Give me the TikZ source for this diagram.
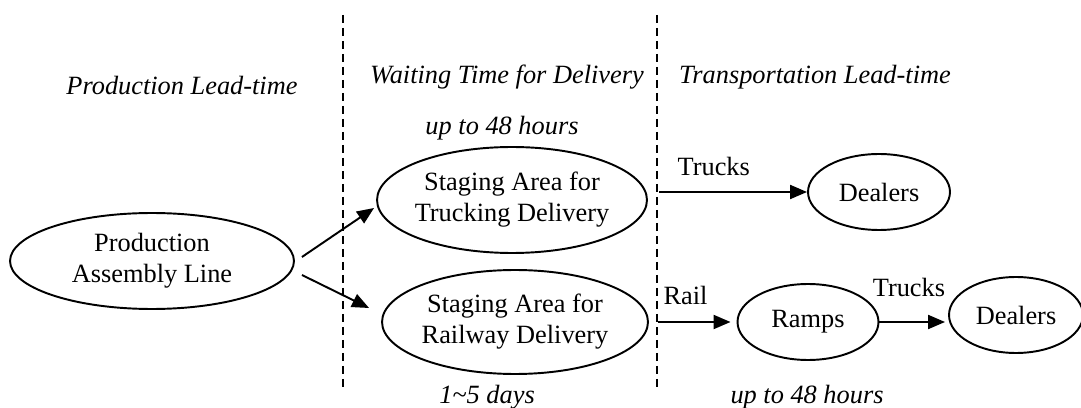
\documentclass[tikz,border=0pt]{standalone}
\usepackage{fontspec}
\setmainfont{Liberation Serif}
\usetikzlibrary{arrows.meta,shapes.geometric,calc}
\tikzset{
  stage/.style   = {ellipse, draw=black, line width=1.1pt, align=center,
                    font=\fontsize{15}{17.6}\selectfont, inner xsep=-2pt, inner ysep=0pt},
  phase/.style   = {anchor=base, font=\fontsize{15}{17.6}\selectfont\itshape, inner sep=0pt},
  carrier/.style = {font=\fontsize{15}{17.6}\selectfont, inner sep=0pt},
  flow/.style    = {-{Triangle[length=3.4mm,width=2.8mm]}, line width=1.1pt},
  divider/.style = {line width=1pt, dash pattern=on 0.16cm off 0.1cm},
}

\begin{document}
\begin{tikzpicture}[x=0.02cm,y=-0.02cm]
  \useasboundingbox (0,0) rectangle (1081,408);

  \draw[divider] (343,15) -- (343,390);
  \draw[divider] (657,15) -- (657,390);

  \node[phase] (plt) at (182,95)  {Production Lead-time};
  \node[phase] (wlt) at (507,84)  {Waiting Time for Delivery};
  \node[phase] (tlt) at (815,84)  {Transportation Lead-time};
  \node[phase] (w48) at (502,135) {up to 48 hours};
  \node[phase] (d15) at (487,403) {1\textasciitilde5 days};
  \node[phase] (t48) at (807,403) {up to 48 hours};

  \node[stage, minimum width=5.68cm, minimum height=1.92cm] (prod)  at (152,261) {Production\\Assembly Line};
  \node[stage, minimum width=5.4cm,  minimum height=2.12cm] (truck) at (512,200) {Staging Area for\\Trucking Delivery};
  \node[stage, minimum width=5.32cm, minimum height=2.08cm] (rail)  at (515,322) {Staging Area for\\Railway Delivery};
  \node[stage, minimum width=2.84cm, minimum height=1.52cm] (deal1) at (879,192) {Dealers};
  \node[stage, minimum width=2.82cm, minimum height=1.52cm] (ramps) at (808,322) {Ramps};
  \node[stage, minimum width=2.68cm, minimum height=1.52cm] (deal2) at (1016,315) {Dealers};

  \coordinate (tk) at (659,192);
  \coordinate (rl) at (658,322);

  \draw[flow] ([shift={(7,-4)}]prod.east) -- ([shift={(-2,8)}]truck.west);
  \draw[flow] ([shift={(7,14)}]prod.east) -- ([shift={(-12,-14)}]rail.west);
  \draw[flow] (tk) -- node[carrier, above=0.3cm, pos=0.37] {Trucks} (deal1);
  \draw[flow, shorten >=0.12cm] (rl) -- node[carrier, above=0.32cm, pos=0.35] {Rail} (ramps);
  \draw[flow, shorten >=0.06cm] (ramps.east) -- node[carrier, above=0.48cm, pos=0.43] {Trucks} (ramps.east -| deal2.west);
\end{tikzpicture}
\end{document}
